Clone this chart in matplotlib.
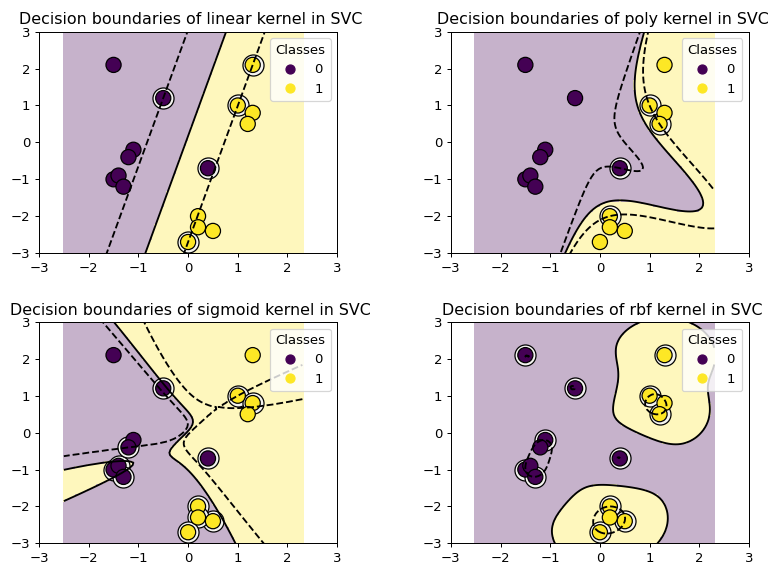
import numpy as np
import matplotlib
matplotlib.use("Agg")
import matplotlib.pyplot as plt

# Toy 2-D training set: feature columns and class labels
x1 = [0.4, -1.5, -1.4, -1.3, -1.1, -1.2, -0.5, -1.5, 1.0, 1.3, 1.2, 0.2, 0.5, 0.2, 0.0, 1.3]
x2 = [-0.7, -1.0, -0.9, -1.2, -0.2, -0.4, 1.2, 2.1, 1.0, 0.8, 0.5, -2.0, -2.4, -2.3, -2.7, 2.1]
labels = [0] * 8 + [1] * 8

# Kernels in panel order (row by row)
kernels = ["linear", "poly", "sigmoid", "rbf"]

GAMMA = 2.0
DEGREE = 3
C = 1.0

plt.rcParams["font.size"] = 10.7
plt.rcParams["axes.titlesize"] = 12.8


def kernel_matrix(kind, A, B):
    dot = A @ B.T
    if kind == "linear":
        return dot
    if kind == "poly":
        return (GAMMA * dot) ** DEGREE
    if kind == "sigmoid":
        return np.tanh(GAMMA * dot)
    sq = (A ** 2).sum(1)[:, None] + (B ** 2).sum(1)[None, :] - 2 * dot
    return np.exp(-GAMMA * sq)


def fit_svc(K, y, eps=1e-3, tau=1e-12, max_iter=200000):
    """libsvm-style SMO (second order working set selection) for C-SVC."""
    n = len(y)
    Q = y[:, None] * y[None, :] * K
    QD = np.diag(Q).copy()
    alpha = np.zeros(n)
    G = -np.ones(n)
    for _ in range(max_iter):
        Gmax, i = -np.inf, -1
        for t in range(n):
            if y[t] == 1:
                if alpha[t] < C and -G[t] >= Gmax:
                    Gmax, i = -G[t], t
            else:
                if alpha[t] > 0 and G[t] >= Gmax:
                    Gmax, i = G[t], t
        Gmax2, j, obj_min = -np.inf, -1, np.inf
        for t in range(n):
            if y[t] == 1:
                if alpha[t] > 0:
                    gd = Gmax + G[t]
                    Gmax2 = max(Gmax2, G[t])
                    if gd > 0:
                        qc = QD[i] + QD[t] - 2 * y[i] * Q[i, t]
                        obj = -(gd * gd) / (qc if qc > 0 else tau)
                        if obj <= obj_min:
                            j, obj_min = t, obj
            else:
                if alpha[t] < C:
                    gd = Gmax - G[t]
                    Gmax2 = max(Gmax2, -G[t])
                    if gd > 0:
                        qc = QD[i] + QD[t] + 2 * y[i] * Q[i, t]
                        obj = -(gd * gd) / (qc if qc > 0 else tau)
                        if obj <= obj_min:
                            j, obj_min = t, obj
        if Gmax + Gmax2 < eps or j == -1:
            break

        ai_old, aj_old = alpha[i], alpha[j]
        if y[i] != y[j]:
            qc = QD[i] + QD[j] + 2 * Q[i, j]
            if qc <= 0:
                qc = tau
            delta = (-G[i] - G[j]) / qc
            diff = alpha[i] - alpha[j]
            alpha[i] += delta
            alpha[j] += delta
            if diff > 0:
                if alpha[j] < 0:
                    alpha[j] = 0
                    alpha[i] = diff
            else:
                if alpha[i] < 0:
                    alpha[i] = 0
                    alpha[j] = -diff
            if diff > 0:
                if alpha[i] > C:
                    alpha[i] = C
                    alpha[j] = C - diff
            else:
                if alpha[j] > C:
                    alpha[j] = C
                    alpha[i] = C + diff
        else:
            qc = QD[i] + QD[j] - 2 * Q[i, j]
            if qc <= 0:
                qc = tau
            delta = (G[i] - G[j]) / qc
            s = alpha[i] + alpha[j]
            alpha[i] -= delta
            alpha[j] += delta
            if s > C:
                if alpha[i] > C:
                    alpha[i] = C
                    alpha[j] = s - C
            else:
                if alpha[j] < 0:
                    alpha[j] = 0
                    alpha[i] = s
            if s > C:
                if alpha[j] > C:
                    alpha[j] = C
                    alpha[i] = s - C
            else:
                if alpha[i] < 0:
                    alpha[i] = 0
                    alpha[j] = s
        G += Q[:, i] * (alpha[i] - ai_old) + Q[:, j] * (alpha[j] - aj_old)

    # intercept
    ub, lb, nfree, sfree = np.inf, -np.inf, 0, 0.0
    for t in range(n):
        yG = y[t] * G[t]
        if alpha[t] >= C:
            if y[t] == -1:
                ub = min(ub, yG)
            else:
                lb = max(lb, yG)
        elif alpha[t] <= 0:
            if y[t] == 1:
                ub = min(ub, yG)
            else:
                lb = max(lb, yG)
        else:
            nfree += 1
            sfree += yG
    rho = sfree / nfree if nfree > 0 else (ub + lb) / 2
    return alpha, rho


X = np.column_stack([x1, x2])
y = np.array(labels)
y_pm = np.where(y == 0, 1.0, -1.0)   # class 0 is the +1 side inside the solver

# grid covering the data with a margin of 1
gx = np.linspace(X[:, 0].min() - 1, X[:, 0].max() + 1, 100)
gy = np.linspace(X[:, 1].min() - 1, X[:, 1].max() + 1, 100)
xx, yy = np.meshgrid(gx, gy)
grid = np.column_stack([xx.ravel(), yy.ravel()])

fig, axes = plt.subplots(2, 2, figsize=(769 / 89 + 1e-4, 565 / 89 + 1e-4), dpi=89)
fig.subplots_adjust(left=0.0507, right=0.974, bottom=0.0384, top=0.9439,
                    wspace=0.381, hspace=0.311)

for ax, kernel in zip(axes.ravel(), kernels):
    K = kernel_matrix(kernel, X, X)
    alpha, rho = fit_svc(K, y_pm)
    sv = alpha > 0
    coef = y_pm * alpha
    dec = -(kernel_matrix(kernel, grid, X[sv]) @ coef[sv] - rho)
    dec = dec.reshape(xx.shape)
    pred = (dec > 0).astype(float)

    ax.set(xlim=(-3, 3), ylim=(-3, 3))
    ax.pcolormesh(xx, yy, pred, alpha=0.3, shading="auto", cmap="viridis", zorder=0.5)

    # support vectors get a ring around them
    ax.scatter(X[sv, 0], X[sv, 1], s=290, facecolors="#f4f4f0", edgecolors="k",
               linewidths=1.0, zorder=2)
    sc = ax.scatter(X[:, 0], X[:, 1], c=y, s=150, edgecolors="k", linewidths=1.0,
                    zorder=2.1)

    ax.contour(xx, yy, dec, levels=[-1, 0, 1], colors=["k", "k", "k"],
               linestyles=["--", "-", "--"], zorder=3)

    ax.legend(*sc.legend_elements(size=7.3), loc="upper right", title="Classes")
    ax.set_title(f" Decision boundaries of {kernel} kernel in SVC")

fig.savefig("out.png", dpi=89)
